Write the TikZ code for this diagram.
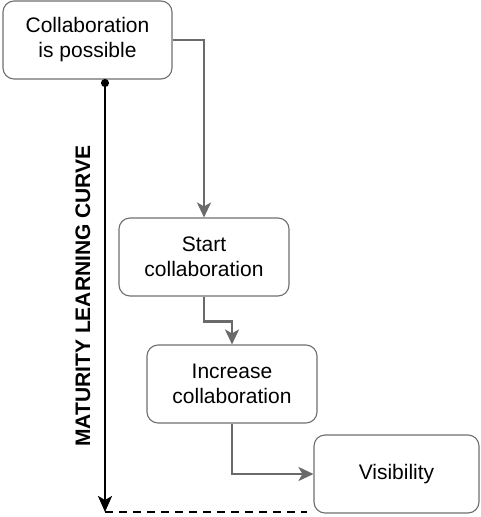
\documentclass[tikz,border=0pt]{standalone}
\usepackage{fontspec}
\setmainfont{Liberation Sans}
\usetikzlibrary{arrows.meta}
\definecolor{boxgray}{HTML}{6E6E6E}
\definecolor{flowgray}{HTML}{6A6A6A}
\begin{document}
\begin{tikzpicture}[x=1pt,y=-1pt,
  box/.style={draw=boxgray,line width=1.1pt,rounded corners=11pt,align=center,
    font=\fontsize{21}{25}\selectfont,inner sep=0pt,minimum height=78pt},
  flow/.style={draw=flowgray,line width=2.5pt,-{Stealth[length=15pt,width=14pt,inset=4pt]}},
  curve/.style={draw=black,line width=2.4pt,{Circle[length=8pt]}-{Stealth[length=16pt,width=14pt,inset=4pt]}},
  base/.style={draw=black,line width=2.4pt,dash pattern=on 8pt off 6pt}
]
\useasboundingbox (0,0) rectangle (480,517);
\node[box,minimum width=169pt] (b1) at (87.5,40) {Collaboration\\is possible};
\node[box,minimum width=170pt] (b2) at (204,257) {Start\\collaboration};
\node[box,minimum width=170pt] (b3) at (232,384) {Increase\\collaboration};
\node[box,minimum width=165pt] (b4) at (396.5,474) {Visibility};
\coordinate (top) at (105,79);
\coordinate (bot) at (105,512);
\coordinate (dend) at (307,512);
\node[rotate=90,font=\fontsize{21}{25}\selectfont\bfseries] (lbl) at (83,296) {MATURITY LEARNING CURVE};
\draw[flow] (b1.east) -| (b2.north);
\draw[flow] (b2.south) -- ++(0,25) -| (b3.north);
\draw[flow] (b3.south) |- (b4.west);
\draw[curve] (top) -- (bot);
\draw[base] (bot) -- (dend);
\end{tikzpicture}
\end{document}
